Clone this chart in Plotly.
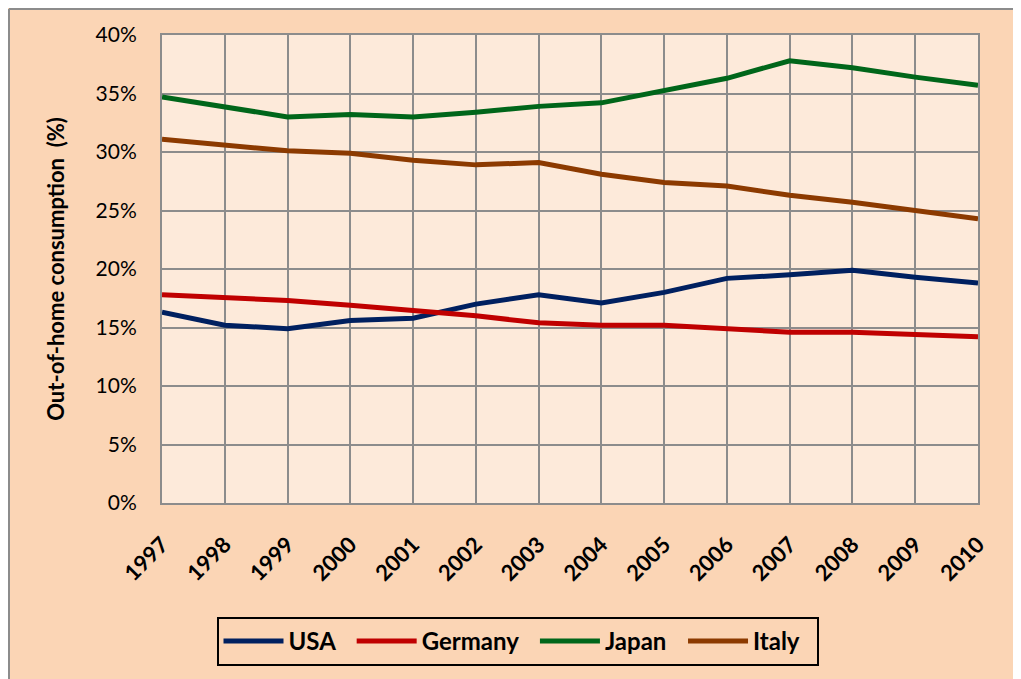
import plotly.graph_objects as go

years = [str(y) for y in range(1997, 2011)]
usa = [16.3, 15.2, 14.9, 15.6, 15.8, 17.0, 17.8, 17.1, 18.0, 19.2, 19.5, 19.9, 19.3, 18.8]
germany = [17.8, 17.6, 17.3, 16.9, 16.5, 16.0, 15.4, 15.2, 15.2, 14.9, 14.6, 14.6, 14.4, 14.2]
japan = [34.7, 33.8, 33.0, 33.2, 33.0, 33.4, 33.9, 34.2, 35.2, 36.3, 37.8, 37.2, 36.4, 35.7]
italy = [31.1, 30.6, 30.1, 29.9, 29.3, 28.9, 29.1, 28.1, 27.4, 27.1, 26.3, 25.7, 25.0, 24.3]

series = [
    ("USA", usa, "#002060"),
    ("Germany", germany, "#C00000"),
    ("Japan", japan, "#00661A"),
    ("Italy", italy, "#8C3A00"),
]

NBSP = "\u00a0\u00a0"

fig = go.Figure()
for name, vals, col in series:
    fig.add_trace(go.Scatter(x=years, y=[v / 100 for v in vals], name=name + NBSP, mode="lines",
                             line=dict(color=col, width=5)))

W, H = 1021, 679
L, R, T, B = 154, 51, 27, 184
pw, ph = W - L - R, H - T - B

def px(x):
    return (x - L) / pw

def py(y):
    return (H - B - y) / ph

border = dict(color="#8C8C8C", width=2)
fig.add_shape(type="line", xref="paper", yref="paper",
              x0=px(1), x1=px(1), y0=py(1), y1=py(690), line=border, layer="below")
fig.add_shape(type="line", xref="paper", yref="paper",
              x0=px(1), x1=px(1030), y0=py(1), y1=py(1), line=border, layer="below")

fig.update_layout(
    width=W, height=H,
    margin=dict(l=L, r=R, t=T, b=B),
    paper_bgcolor="#FBD5B5",
    plot_bgcolor="#FDEADA",
    font=dict(family="Lato, Calibri, sans-serif", color="black", size=17),
    showlegend=True,
    legend=dict(orientation="h", x=px(509.5), xanchor="center", y=py(609), yanchor="top",
                bordercolor="black", borderwidth=2, bgcolor="#FBD5B5",
                font=dict(size=24, family="Lato, sans-serif", weight="bold"),
                itemwidth=60, tracegroupgap=0),
)
fig.update_xaxes(
    type="category", range=[0, 13], tickangle=-45,
    showgrid=True, gridcolor="#8C8C8C", gridwidth=2,
    showline=True, linecolor="#8C8C8C", linewidth=2, mirror=True,
    ticks="", tickfont=dict(size=22, weight="bold"), ticklabelstandoff=18,
)
fig.update_yaxes(
    range=[0, 0.4], dtick=0.05, tickformat=".0%",
    showgrid=True, gridcolor="#8C8C8C", gridwidth=2,
    showline=True, linecolor="#8C8C8C", linewidth=2, mirror=True,
    zeroline=False, ticks="", ticklabelstandoff=19,
    tickfont=dict(size=21),
    title=dict(text="Out-of-home consumption  (%)", font=dict(size=22, weight="bold"), standoff=25),
)

fig.write_html("out.html")
